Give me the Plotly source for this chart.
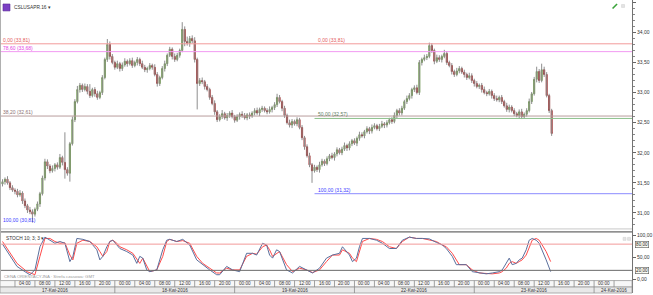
import plotly.graph_objects as go

W, H = 653, 295
PLOT_R = 633  # right edge of plot area (px)

# ---------------- data ----------------
OPEN0 = 31.48
T0, STEP = 1.5, 0.5  # hours since 17 Apr 00:00, 30-min candles
CLOSE = [
    31.52, 31.56, 31.50, 31.42, 31.38, 31.36, 31.30, 31.33, 31.20, 31.12,
    31.05, 31.02, 30.98, 31.06, 31.15, 31.32, 31.58, 31.85, 31.78, 31.70,
    31.74, 31.80, 31.76, 31.92, 31.84, 31.72, 31.66, 32.15, 32.55, 32.85,
    33.05, 33.12, 33.05, 33.10, 33.02, 32.95, 33.05, 32.98, 32.92, 33.00,
    33.25, 33.55, 33.80, 33.60, 33.50, 33.42, 33.48, 33.40, 33.46, 33.52,
    33.48, 33.53, 33.45, 33.50, 33.55, 33.48, 33.42, 33.38, 33.40, 33.45,
    33.42, 33.30, 33.15, 33.25, 33.40, 33.48, 33.62, 33.72, 33.60, 33.55,
    33.62, 33.70, 34.05, 33.85, 33.82, 33.90, 33.86, 33.55, 33.15, 33.20,
    33.18, 33.10, 33.05, 32.92, 32.82, 32.68, 32.55, 32.60, 32.65, 32.58,
    32.62, 32.66, 32.60, 32.54, 32.60, 32.64, 32.62, 32.58, 32.63, 32.61,
    32.66, 32.70, 32.66, 32.72, 32.74, 32.70, 32.68, 32.72, 32.75, 32.80,
    32.92, 32.85, 32.74, 32.62, 32.50, 32.46, 32.52, 32.48, 32.55, 32.42,
    32.25, 32.10, 31.95, 31.80, 31.70, 31.76, 31.72, 31.80, 31.86, 31.82,
    31.90, 31.95, 31.92, 31.98, 32.05, 32.00, 32.06, 32.12, 32.08, 32.15,
    32.20, 32.16, 32.24, 32.30, 32.28, 32.35, 32.40, 32.36, 32.42, 32.45,
    32.40, 32.44, 32.48, 32.46, 32.50, 32.55, 32.52, 32.62, 32.70, 32.66,
    32.74, 32.85, 32.90, 32.95, 33.05, 33.08, 33.00, 33.50, 33.55, 33.58,
    33.60, 33.78, 33.70, 33.52, 33.58, 33.55, 33.60, 33.65, 33.50, 33.45,
    33.35, 33.30, 33.36, 33.40, 33.34, 33.30, 33.25, 33.28, 33.20, 33.15,
    33.10, 33.12, 33.05, 33.00, 32.98, 33.02, 32.95, 32.90, 32.88, 32.92,
    32.85, 32.78, 32.72, 32.76, 32.70, 32.65, 32.62, 32.68, 32.60, 32.64,
    32.70, 32.85, 32.98, 33.22, 33.35, 33.20, 33.38, 33.30, 32.95, 32.70,
    32.32,
]
UP_WICK = [  # hundredths above the body
    4, 3, 5, 3, 4, 3, 4, 5, 3, 4,  3, 5, 4, 3, 4, 3, 4, 5, 4, 3,
    5, 3, 4, 6, 3, 50, 4, 3, 5, 4,  6, 4, 3, 5, 4, 12, 3, 4, 5, 3,
    4, 3, 9, 5, 4, 3, 5, 3, 4, 5,  3, 4, 5, 3, 4, 3, 5, 4, 3, 4,
    3, 5, 4, 3, 4, 5, 3, 4, 3, 5,  4, 3, 12, 5, 8, 4, 5, 6, 3, 4,
    5, 3, 4, 3, 4, 5, 3, 4, 6, 3,  4, 3, 5, 3, 4, 3, 5, 4, 3, 4,
    3, 4, 5, 3, 4, 3, 4, 5, 3, 4,  6, 4, 3, 4, 3, 5, 4, 3, 4, 3,
    4, 3, 4, 5, 3, 4, 3, 5, 4, 3,  4, 3, 5, 3, 4, 3, 4, 5, 3, 4,
    3, 4, 3, 5, 4, 3, 4, 3, 5, 4,  3, 4, 5, 3, 4, 3, 4, 5, 3, 4,
    4, 3, 5, 4, 3, 4, 5, 4, 3, 5,  4, 5, 4, 3, 5, 4, 3, 6, 4, 3,
    4, 3, 5, 4, 3, 4, 3, 5, 4, 3,  4, 3, 4, 5, 3, 4, 3, 4, 5, 3,
    4, 3, 5, 4, 3, 4, 3, 4, 5, 3,  4, 5, 3, 4, 8, 4, 10, 5, 4, 3,
    3,
]
DN_WICK = [  # hundredths below the body
    4, 5, 3, 4, 3, 5, 4, 3, 5, 4,  5, 4, 14, 4, 3, 5, 3, 4, 5, 4,
    3, 5, 4, 3, 5, 15, 4, 14, 3, 4,  3, 5, 4, 3, 5, 4, 3, 5, 4, 3,
    4, 3, 4, 5, 3, 4, 3, 5, 4, 3,  5, 3, 4, 3, 5, 4, 3, 4, 5, 3,
    4, 3, 5, 4, 3, 5, 4, 3, 5, 4,  3, 4, 3, 8, 4, 6, 4, 5, 43, 4,
    4, 5, 3, 4, 3, 5, 4, 3, 4, 3,  5, 4, 3, 4, 3, 5, 4, 3, 4, 5,
    3, 4, 3, 5, 4, 3, 4, 3, 5, 4,  4, 3, 5, 4, 3, 4, 5, 3, 4, 3,
    4, 5, 3, 4, 20, 3, 4, 5, 3, 4,  3, 4, 3, 5, 4, 3, 4, 3, 5, 4,
    4, 3, 5, 4, 3, 4, 3, 5, 4, 3,  3, 4, 3, 5, 4, 3, 4, 3, 5, 4,
    4, 3, 4, 3, 5, 4, 3, 4, 5, 3,  4, 3, 4, 5, 3, 4, 5, 3, 4, 3,
    5, 4, 3, 4, 3, 5, 4, 3, 4, 5,  3, 4, 5, 3, 4, 3, 5, 4, 3, 4,
    4, 3, 4, 5, 3, 4, 3, 5, 4, 3,  4, 3, 4, 3, 5, 4, 3, 4, 3, 4,
    4,
]

STOCH_H = [1.5, 3.0, 4.4, 6.4, 7.0, 8.0, 9.0, 10.0, 11.0, 12.0, 13.0, 14.0, 15.0, 15.6,
           16.4, 17.6, 19.0, 20.4, 21.0, 21.6, 22.4, 23.0, 23.6, 24.4, 25.0, 26.4, 27.6,
           28.4, 29.0, 29.6, 30.4, 31.0, 32.4, 33.6, 34.4, 35.0, 36.4, 37.6, 39.0, 40.4,
           41.6, 43.0, 44.4, 45.0, 46.4, 47.6, 49.0, 50.4, 51.6, 52.4, 53.6, 54.4, 55.0,
           55.6, 56.4, 57.0, 58.4, 59.6, 61.0, 62.4, 63.6, 65.0, 66.4, 67.6, 69.0, 69.6,
           71.0, 71.6, 72.4, 73.0, 73.6, 75.0, 76.4, 77.6, 79.0, 80.4, 81.6, 83.0, 84.4,
           85.6, 87.0, 88.4, 89.6, 90.4, 91.6, 92.4, 93.0, 94.4, 95.6, 97.0, 98.4, 99.6,
           101.0, 101.6, 102.4, 103.0, 103.6, 104.4, 105.0, 105.6, 106.4, 107.0, 107.6,
           108.4, 109.0, 109.6, 110.4, 111.3]
STOCH_K = [80, 52, 29, 14, 10, 21, 74, 96, 89, 82, 86, 82, 40, 52,
           93, 91, 86, 67, 44, 52, 74, 86, 89, 78, 70, 63, 55,
           36, 52, 48, 21, 17, 21, 67, 89, 91, 86, 91, 78, 44,
           33, 21, 10, 10, 29, 21, 17, 59, 59, 55, 82, 78, 55,
           48, 67, 63, 21, 14, 29, 21, 14, 25, 48, 55, 59, 74,
           55, 40, 48, 74, 93, 93, 89, 82, 70, 70, 89, 96, 93,
           93, 92, 84, 78, 70, 52, 33, 33, 33, 17, 14, 12, 14,
           17, 21, 36, 48, 33, 36, 44, 48, 67, 89, 93,
           89, 82, 67, 44, 17]
STOCH_D = [86, 59, 36, 17, 14, 10, 52, 93, 93, 86, 82, 83, 55, 44,
           82, 89, 86, 74, 63, 52, 63, 86, 89, 82, 74, 67, 59,
           44, 36, 48, 29, 17, 21, 52, 86, 91, 86, 88, 82, 52,
           36, 25, 14, 14, 25, 21, 21, 52, 59, 57, 74, 78, 67,
           52, 59, 63, 33, 17, 25, 21, 15, 21, 40, 55, 55, 67,
           59, 48, 40, 63, 86, 93, 91, 86, 74, 70, 86, 96, 93,
           93, 90, 86, 78, 74, 59, 44, 33, 33, 21, 14, 12, 12,
           14, 17, 25, 36, 40, 36, 40, 44, 55, 74, 89,
           93, 89, 78, 63, 40]

FIB_LEFT_PCT = ["0,00", "78,60", "38,20", "100,00"]
FIB_LEFT_VAL = [33.81, 33.68, 32.61, 30.81]
FIB_LEFT_COL = ["#e35a5a", "#e23ee2", "#8c7272", "#3a3aff"]
FIB_LEFT_LINE = ["#f29a9a", "#f29af2", "#b89c9c", None]
FIB_MID_PCT = ["0,00", "50,00", "100,00"]
FIB_MID_VAL = [33.81, 32.57, 31.32]
FIB_MID_COL = ["#e35a5a", "#5f805f", "#3a3aff"]
FIB_MID_LINE = [None, "#8cc08c", "#8c8cff"]

DAY_LABELS = ["17-Kwi-2016", "18-Kwi-2016", "19-Kwi-2016", "22-Kwi-2016", "23-Kwi-2016", "24-Kwi-2016"]
HOUR_STEP = 4

SYMBOL = "CSLUSAPR.16"
STOCH_NAME = "STOCH 10; 3; 3"
FOOTNOTE = "CENA ORIENTACYJNA · Strefa czasowa: GMT"

# ---------------- geometry helpers ----------------
def px(x):
    return x / W

def py(y):
    return 1 - y / H

def hx(xpix):  # pixel -> hours (x data unit)
    return (xpix + 5) / 5.0

X_RANGE = [hx(0), hx(PLOT_R)]
Y_MAIN = [34.5 - (230 - 2.3) / 60.6, 34.5 + 2.3 / 60.6]
Y_STO = [-(282 - 281) / 0.44, (281 - 233) / 0.44]

# ---------------- derived OHLC ----------------
times = [T0 + STEP * i for i in range(len(CLOSE))]
opens = [OPEN0] + CLOSE[:-1]
body_hi = [max(o, c) for o, c in zip(opens, CLOSE)]
body_lo = [min(o, c) for o, c in zip(opens, CLOSE)]
highs = [b + u / 100 for b, u in zip(body_hi, UP_WICK)]
lows = [b - d / 100 for b, d in zip(body_lo, DN_WICK)]

wx, wy = [], []
for t, lo, hi in zip(times, lows, highs):
    wx += [t, t, None]
    wy += [lo, hi, None]

fig = go.Figure()
fig.add_trace(go.Scatter(x=wx, y=wy, mode="lines", line=dict(color="#8e8e8e", width=1),
                         hoverinfo="skip", showlegend=False, xaxis="x", yaxis="y"))
fig.add_trace(go.Candlestick(
    x=times, open=opens, high=body_hi, low=body_lo, close=CLOSE,
    increasing=dict(fillcolor="#7cc043", line=dict(color="#4d7a2a", width=0.6)),
    decreasing=dict(fillcolor="#e01212", line=dict(color="#7a0a0a", width=0.6)),
    whiskerwidth=0, showlegend=False, xaxis="x", yaxis="y"))

fig.add_trace(go.Scatter(x=STOCH_H, y=STOCH_D, mode="lines", line=dict(color="#ff4a4a", width=1),
                         showlegend=False, xaxis="x2", yaxis="y2"))
fig.add_trace(go.Scatter(x=STOCH_H, y=STOCH_K, mode="lines", line=dict(color="#5b6f9c", width=1),
                         showlegend=False, xaxis="x2", yaxis="y2"))

shapes = []
ann = []
FONT = "Liberation Sans, Arial, sans-serif"

# fib lines
for v, lc in zip(FIB_LEFT_VAL, FIB_LEFT_LINE):
    if lc:
        shapes.append(dict(type="line", xref="x", yref="y", x0=X_RANGE[0], x1=X_RANGE[1], y0=v, y1=v,
                           line=dict(color=lc, width=1)))
for v, lc in zip(FIB_MID_VAL, FIB_MID_LINE):
    if lc:
        shapes.append(dict(type="line", xref="x", yref="y", x0=hx(315), x1=X_RANGE[1], y0=v, y1=v,
                           line=dict(color=lc, width=1)))

def fmt(v):
    return f"{v:.2f}".replace(".", ",")

for p, v, c in zip(FIB_LEFT_PCT, FIB_LEFT_VAL, FIB_LEFT_COL):
    ann.append(dict(xref="x", yref="y", x=hx(1), y=v, text=f"{p} ({fmt(v)})", showarrow=False,
                    xanchor="left", yanchor="bottom", yshift=-1,
                    font=dict(size=5, color=c, family=FONT)))
for p, v, c in zip(FIB_MID_PCT, FIB_MID_VAL, FIB_MID_COL):
    ann.append(dict(xref="x", yref="y", x=hx(316), y=v, text=f"{p} ({fmt(v)})", showarrow=False,
                    xanchor="left", yanchor="bottom", yshift=-1,
                    font=dict(size=5, color=c, family=FONT)))

# stoch level lines
shapes.append(dict(type="line", xref="x2", yref="y2", x0=X_RANGE[0], x1=X_RANGE[1], y0=80, y1=80,
                   line=dict(color="#f29a9a", width=1)))
shapes.append(dict(type="line", xref="x2", yref="y2", x0=X_RANGE[0], x1=X_RANGE[1], y0=20, y1=20,
                   line=dict(color="#6a6a6a", width=1)))

# panel frame lines
shapes.append(dict(type="line", xref="paper", yref="paper", x0=0, x1=px(PLOT_R), y0=py(230.5), y1=py(230.5),
                   line=dict(color="#c8c8c8", width=1)))
shapes.append(dict(type="line", xref="paper", yref="paper", x0=0, x1=px(PLOT_R), y0=py(233.5), y1=py(233.5),
                   line=dict(color="#444444", width=1)))
shapes.append(dict(type="line", xref="paper", yref="paper", x0=px(0.5), x1=px(0.5), y0=py(0), y1=py(282),
                   line=dict(color="#b0b0b0", width=1)))
shapes.append(dict(type="line", xref="paper", yref="paper", x0=px(PLOT_R + 0.5), x1=px(PLOT_R + 0.5),
                   y0=py(0), y1=py(295), line=dict(color="#707070", width=1)))

# time axis rows
shapes.append(dict(type="rect", xref="paper", yref="paper", x0=0, x1=px(PLOT_R), y0=py(289), y1=py(282.5),
                   fillcolor="#f7f7f7", line=dict(color="#9a9a9a", width=0.8), layer="above"))
shapes.append(dict(type="rect", xref="paper", yref="paper", x0=0, x1=px(PLOT_R), y0=py(295), y1=py(289),
                   fillcolor="#e9e9e9", line=dict(color="#9a9a9a", width=0.8), layer="above"))

for k in range(0, 128 // HOUR_STEP + 1):
    t = k * HOUR_STEP
    xp = -5 + 5 * t
    if 0 < xp < PLOT_R:
        shapes.append(dict(type="line", xref="x2", yref="paper", x0=t, x1=t, y0=py(289), y1=py(282.5),
                           line=dict(color="#8a8a8a", width=0.8), layer="above"))
    cpix = -5 + 5 * (t + HOUR_STEP / 2)
    if 8 <= cpix <= PLOT_R - 12:
        ann.append(dict(xref="x2", yref="paper", x=t + HOUR_STEP / 2, y=py(285.8), text=f"{t % 24:02d}:00",
                        showarrow=False, font=dict(size=4.6, color="#333", family=FONT),
                        xanchor="center", yanchor="middle"))

for d, lab in enumerate(DAY_LABELS):
    t = 24 * d
    if d > 0:
        shapes.append(dict(type="line", xref="x2", yref="paper", x0=t, x1=t, y0=py(295), y1=py(289),
                           line=dict(color="#8a8a8a", width=0.8), layer="above"))
    c = t + 12
    if -5 + 5 * c > PLOT_R - 15:
        c = hx(615)
    ann.append(dict(xref="x2", yref="paper", x=c, y=py(292.2), text=lab, showarrow=False,
                    font=dict(size=4.6, color="#333", family=FONT), xanchor="center", yanchor="middle"))

# stoch boxed labels
for v in (80, 20):
    ann.append(dict(xref="paper", yref="y2", x=px(635.5), y=v, text=fmt(v), showarrow=False,
                    xanchor="left", yanchor="middle", bgcolor="#fbfbf2", bordercolor="#555",
                    borderwidth=0.6, borderpad=0.5, font=dict(size=4.6, color="#222", family=FONT)))

# header items
shapes.append(dict(type="rect", xref="paper", yref="paper", x0=px(3), x1=px(10), y0=py(11), y1=py(4),
                   fillcolor="#7b3fc4", line=dict(color="#5a2a96", width=0.6)))
ann.append(dict(xref="paper", yref="paper", x=px(12), y=py(7.5), text=SYMBOL + " ▾", showarrow=False,
                xanchor="left", yanchor="middle", font=dict(size=4.8, color="#333", family=FONT)))
shapes.append(dict(type="line", xref="paper", yref="paper", x0=px(613.5), x1=px(618), y0=py(8.5), y1=py(4),
                   line=dict(color="#3aa33a", width=1.6)))
shapes.append(dict(type="rect", xref="paper", yref="paper", x0=px(622.5), x1=px(625.5), y0=py(7.5), y1=py(4.5),
                   fillcolor="#e4e4e4", line=dict(color="#cfcfcf", width=0.5)))
for xx in (624, 628.5):
    shapes.append(dict(type="rect", xref="paper", yref="paper", x0=px(xx), x1=px(xx + 3), y0=py(242), y1=py(239),
                       fillcolor="#e4e4e4", line=dict(color="#cfcfcf", width=0.5)))

ann.append(dict(xref="paper", yref="paper", x=px(4), y=py(240.5), text=STOCH_NAME + " ▾", showarrow=False,
                xanchor="left", yanchor="middle", font=dict(size=4.8, color="#333", family=FONT)))
ann.append(dict(xref="paper", yref="paper", x=px(2), y=py(278.5), text=FOOTNOTE, showarrow=False,
                xanchor="left", yanchor="middle", font=dict(size=4.3, color="#9a9a9a", family=FONT)))

fig.update_layout(
    width=W, height=H, margin=dict(l=0, r=0, t=0, b=0),
    paper_bgcolor="white", plot_bgcolor="white",
    separators=", ",
    showlegend=False,
    font=dict(family=FONT, size=5, color="#333"),
    xaxis=dict(domain=[0, px(PLOT_R)], range=X_RANGE, visible=False, anchor="y",
               rangeslider=dict(visible=False), fixedrange=True),
    yaxis=dict(domain=[py(230), 1], range=Y_MAIN, side="right", anchor="x",
               tickvals=[31.0, 31.5, 32.0, 32.5, 33.0, 33.5, 34.0, 34.5], tickformat=".2f",
               ticks="outside", ticklen=3, tickcolor="#666", showgrid=False, zeroline=False,
               showline=False, tickfont=dict(size=5, color="#333", family=FONT),
               minor=dict(dtick=0.1, ticks="outside", ticklen=1.5, tickcolor="#888", showgrid=False)),
    xaxis2=dict(domain=[0, px(PLOT_R)], range=X_RANGE, visible=False, anchor="y2", matches="x"),
    yaxis2=dict(domain=[py(282), py(233)], range=Y_STO, side="right", anchor="x2",
                tickvals=[0, 50, 100], tickformat=".2f", ticks="outside", ticklen=3, tickcolor="#666",
                showgrid=False, zeroline=False, showline=False,
                tickfont=dict(size=5, color="#333", family=FONT)),
    shapes=shapes, annotations=ann,
)

fig.write_html("out.html")
